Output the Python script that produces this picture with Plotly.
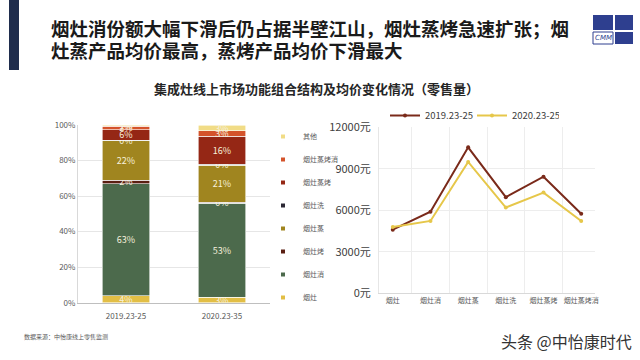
import plotly.graph_objects as go

# ---------------- data ----------------
bar_periods = ["2019.23-25", "2020.23-35"]
seg_names = ["烟灶", "烟灶消", "烟灶烤", "烟灶蒸", "烟灶洗", "烟灶蒸烤", "烟灶蒸烤消", "其他"]
share_2019 = [4, 63, 2, 22, 0.4, 6, 2, 0.6]
share_2020 = [3, 53, 0.4, 21, 0.4, 16, 3, 3]
seg_colors = ["#E2BE45", "#4C6A4C", "#5A1F12", "#A0851F", "#2B2834",
              "#952715", "#D4532B", "#F1DC86"]

line_cats = ["烟灶", "烟灶消", "烟灶蒸", "烟灶洗", "烟灶蒸烤", "烟灶蒸烤消"]
price_2019 = [4600, 5900, 10550, 6950, 8430, 5750]
price_2020 = [4800, 5230, 9500, 6200, 7280, 5230]
line_names = ["2019.23-25", "2020.23-25"]
line_colors = ["#7A2A1A", "#E6C74A"]

y_ticks_bar = [0, 20, 40, 60, 80, 100]
y_ticks_line = [0, 3000, 6000, 9000, 12000]

title_lines = ["烟灶消份额大幅下滑后仍占据半壁江山，烟灶蒸烤急速扩张；烟",
               "灶蒸产品均价最高，蒸烤产品均价下滑最大"]
subtitle = "集成灶线上市场功能组合结构及均价变化情况（零售量）"
source = "数据来源：中怡康线上零售监测"
watermark = "头条 @中怡康时代"

FONT = "Noto Sans CJK SC"
W, H = 640, 360

fig = go.Figure()

for i, name in enumerate(seg_names):
    vals = [share_2019[i], share_2020[i]]
    fig.add_trace(go.Bar(
        x=bar_periods, y=vals, name=name,
        marker=dict(color=seg_colors[i], line=dict(color="white", width=0.6)),
        text=[f"{v:.0f}%" for v in vals],
        textposition="inside", insidetextanchor="middle",
        textfont=dict(color="#F6F0DC", size=9, family=FONT),
        xaxis="x", yaxis="y", showlegend=False,
        hoverinfo="skip",
    ))
    # small square legend entry
    fig.add_trace(go.Scatter(
        x=[None], y=[None], name=name, mode="markers",
        marker=dict(symbol="square", size=4, color=seg_colors[i]),
        xaxis="x", yaxis="y", legend="legend", legendgroup=name,
        legendrank=100 - i,
    ))

for name, vals, col in zip(line_names, [price_2019, price_2020], line_colors):
    fig.add_trace(go.Scatter(
        x=line_cats, y=vals, name=name, mode="lines+markers",
        line=dict(color=col, width=2), marker=dict(color=col, size=4),
        xaxis="x2", yaxis="y2", legend="legend2",
    ))

def px_x(v):
    return v / W

def px_y(v):
    return 1 - v / H

fig.update_layout(
    width=W, height=H, margin=dict(l=0, r=0, t=0, b=0, autoexpand=False),
    paper_bgcolor="white", plot_bgcolor="white",
    font=dict(family=FONT, color="#595959"),
    barmode="stack", bargap=0.51,
    uniformtext=dict(minsize=8, mode="show"),
    showlegend=True,
    xaxis=dict(domain=[px_x(78), px_x(270)], showgrid=False,
               showline=True, linecolor="#BFBFBF",
               ticks="outside", ticklen=6, tickcolor="rgba(0,0,0,0)",
               tickfont=dict(size=8, color="#595959"), fixedrange=True),
    yaxis=dict(domain=[px_y(302.7), px_y(125)], range=[0, 100],
               tickvals=y_ticks_bar, ticktext=[f"{v}%" for v in y_ticks_bar],
               showgrid=True, gridcolor="#E6E6E6", zeroline=False,
               showline=True, linecolor="#D9D9D9",
               tickfont=dict(size=8, color="#595959"), fixedrange=True),
    xaxis2=dict(domain=[px_x(379), px_x(595)], anchor="y2",
                showgrid=True, gridcolor="#EDEDED", tickson="boundaries",
                showline=True, linecolor="#D9D9D9", tickangle=0,
                ticks="outside", ticklen=11, tickcolor="rgba(0,0,0,0)",
                tickfont=dict(size=7, color="#595959"), fixedrange=True),
    yaxis2=dict(domain=[px_y(293.3), px_y(127.3)], anchor="x2", range=[0, 12000],
                tickvals=y_ticks_line, ticktext=[f"{v}元" for v in y_ticks_line],
                showgrid=True, gridcolor="#EDEDED", zeroline=False,
                showline=True, linecolor="#E6E6E6",
                ticks="outside", ticklen=5, tickcolor="rgba(0,0,0,0)",
                tickfont=dict(size=11, color="#404040"), fixedrange=True),
    legend=dict(x=px_x(263), y=px_y(122), xanchor="left", yanchor="top",
                traceorder="grouped", tracegroupgap=4,
                font=dict(size=7, color="#595959"), itemwidth=30,
                bgcolor="rgba(0,0,0,0)"),
    legend2=dict(x=px_x(385), y=px_y(101), xanchor="left", yanchor="top",
                 orientation="h", font=dict(size=9.5, color="#404040"),
                 entrywidth=42, entrywidthmode="pixels", itemwidth=30,
                 bgcolor="rgba(0,0,0,0)"),
)

# header decorations
fig.add_shape(type="rect", xref="paper", yref="paper",
              x0=px_x(9), x1=px_x(19), y0=px_y(70), y1=px_y(0),
              fillcolor="#1F2D4D", line=dict(width=0))
# logo
fig.add_shape(type="rect", xref="paper", yref="paper",
              x0=px_x(593), x1=px_x(613), y0=px_y(30), y1=px_y(15),
              fillcolor="#2E3F8F", line=dict(width=0))
fig.add_shape(type="rect", xref="paper", yref="paper",
              x0=px_x(615), x1=px_x(633), y0=px_y(30), y1=px_y(15),
              fillcolor="#2E3F8F", line=dict(width=0))
fig.add_shape(type="rect", xref="paper", yref="paper",
              x0=px_x(615), x1=px_x(633), y0=px_y(44), y1=px_y(32),
              fillcolor="#2E3F8F", line=dict(width=0))
fig.add_shape(type="rect", xref="paper", yref="paper",
              x0=px_x(593), x1=px_x(613), y0=px_y(44), y1=px_y(32),
              fillcolor="white", line=dict(color="#2E3F8F", width=1))
fig.add_annotation(xref="paper", yref="paper", x=px_x(603), y=px_y(38),
                   xanchor="center", yanchor="middle",
                   text="<i>CMM</i>", showarrow=False,
                   font=dict(size=7, color="#2E3F8F", family="DejaVu Sans"))

for i, line in enumerate(title_lines):
    fig.add_annotation(xref="paper", yref="paper", x=px_x(49), y=px_y(28 + 22 * i),
                       xanchor="left", yanchor="middle", text=f"<b>{line}</b>",
                       showarrow=False, font=dict(size=18.5, color="#1A1A1A", family=FONT))

fig.add_annotation(xref="paper", yref="paper", x=px_x(316), y=px_y(88),
                   xanchor="center", yanchor="middle", text=f"<b>{subtitle}</b>",
                   showarrow=False, font=dict(size=13, color="#262626", family=FONT))

fig.add_annotation(xref="paper", yref="paper", x=px_x(22), y=px_y(336),
                   xanchor="left", yanchor="middle", text=source,
                   showarrow=False, font=dict(size=6, color="#595959", family=FONT))

fig.add_annotation(xref="paper", yref="paper", x=px_x(634), y=px_y(341),
                   xanchor="right", yanchor="middle", text=watermark,
                   showarrow=False, font=dict(size=16, color="#333333", family=FONT))

fig.write_html("out.html",
               config={"displayModeBar": False},
               post_script="document.body.style.margin='0';")
